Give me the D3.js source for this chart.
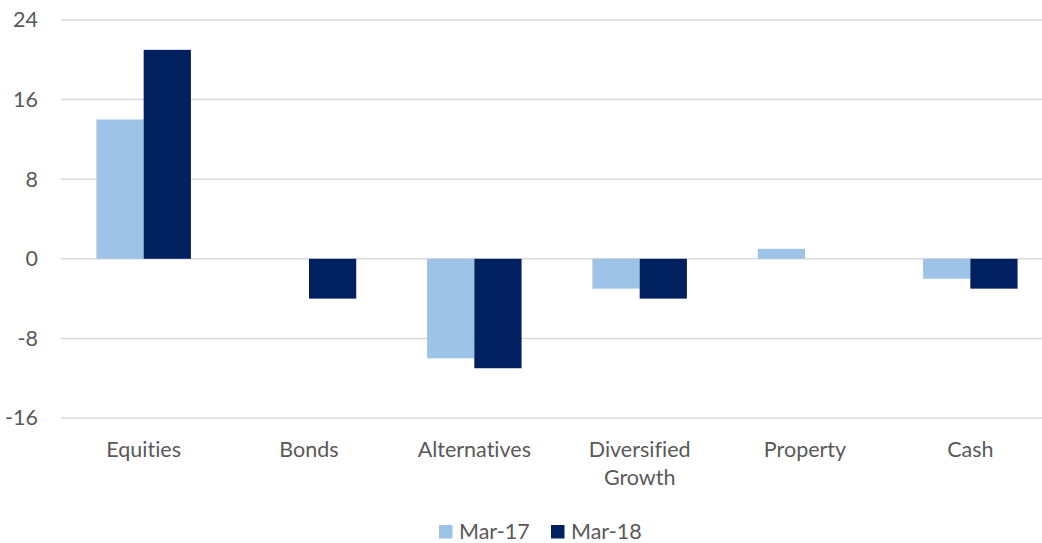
<!DOCTYPE html>
<html>
<head>
<meta charset="utf-8">
<script src="https://cdn.jsdelivr.net/npm/d3@7"></script>
<style>
  body { margin: 0; background: #fff; }
  svg text { font-family: Lato, "Open Sans", sans-serif; fill: #595959; font-variant-ligatures: none; }
</style>
</head>
<body>
<svg id="visu" width="1042" height="543"></svg>
<script>
var categories = ["Equities", "Bonds", "Alternatives", "Diversified Growth", "Property", "Cash"];
var seriesNames = ["Mar-17", "Mar-18"];
var mar17 = [14, 0, -10, -3, 1, -2];
var mar18 = [21, -4, -11, -4, 0, -3];
var yTicks = [-16, -8, 0, 8, 16, 24];
var colors = ["#9dc3e6", "#002060"];

var vis = d3.select("#visu"),
    WIDTH = 1042,
    FONT = "21.5px",
    MARGINS = { top: 20, left: 61, right: 1053, bottom: 418 };

var data = categories.map(function(c, i) {
  return { cat: c, values: [mar17[i], mar18[i]] };
});

var x0 = d3.scaleBand()
  .domain(categories)
  .range([MARGINS.left, MARGINS.right])
  .padding(0);

var x1 = d3.scaleBand()
  .domain(seriesNames)
  .range([0, x0.bandwidth()])
  .paddingInner(0)
  .paddingOuter(0.75);

var yScale = d3.scaleLinear()
  .domain([-16, 24])
  .range([MARGINS.bottom, MARGINS.top]);

// gridlines
vis.append("g")
  .selectAll("line")
  .data(yTicks)
  .enter().append("line")
    .attr("x1", MARGINS.left)
    .attr("x2", WIDTH)
    .attr("y1", function(d) { return yScale(d); })
    .attr("y2", function(d) { return yScale(d); })
    .attr("stroke", "#d9d9d9")
    .attr("stroke-width", 1.5);

// y axis labels, plain hyphen for negatives
var yAxis = d3.axisLeft(yScale)
  .tickValues(yTicks)
  .tickFormat(function(d) { return String(d); })
  .tickSize(0)
  .tickPadding(0);
var yG = vis.append("g")
  .attr("transform", "translate(38,0)")
  .call(yAxis);
yG.select(".domain").remove();
yG.selectAll("text")
  .style("font-size", FONT)
  .style("font-family", "Lato, 'Open Sans', sans-serif")
  .attr("fill", "#595959");

// bars
var groups = vis.append("g")
  .selectAll("g")
  .data(data)
  .enter().append("g")
    .attr("transform", function(d) { return "translate(" + x0(d.cat) + ",0)"; });

groups.selectAll("rect")
  .data(function(d) { return d.values.map(function(v, i) { return { s: seriesNames[i], v: v, i: i }; }); })
  .enter().append("rect")
    .attr("x", function(d) { return x1(d.s); })
    .attr("width", x1.bandwidth())
    .attr("y", function(d) { return yScale(Math.max(0, d.v)); })
    .attr("height", function(d) { return Math.abs(yScale(d.v) - yScale(0)); })
    .attr("fill", function(d) { return colors[d.i]; });

// category labels
var xLab = vis.append("g");
categories.forEach(function(c) {
  var words = c.split(" ");
  var t = xLab.append("text")
    .attr("x", x0(c) + x0.bandwidth() / 2)
    .attr("y", 457)
    .attr("text-anchor", "middle")
    .style("font-size", FONT);
  words.forEach(function(w, i) {
    t.append("tspan")
      .attr("x", x0(c) + x0.bandwidth() / 2)
      .attr("dy", i === 0 ? 0 : 28)
      .text(w);
  });
});

// legend
var legendX = [439, 551];
var legend = vis.append("g");
seriesNames.forEach(function(s, i) {
  legend.append("rect")
    .attr("x", legendX[i])
    .attr("y", 525)
    .attr("width", 13.5)
    .attr("height", 13.5)
    .attr("fill", colors[i]);
  legend.append("text")
    .attr("x", legendX[i] + 20)
    .attr("y", 538.5)
    .style("font-size", FONT)
    .text(s);
});
</script>
</body>
</html>
